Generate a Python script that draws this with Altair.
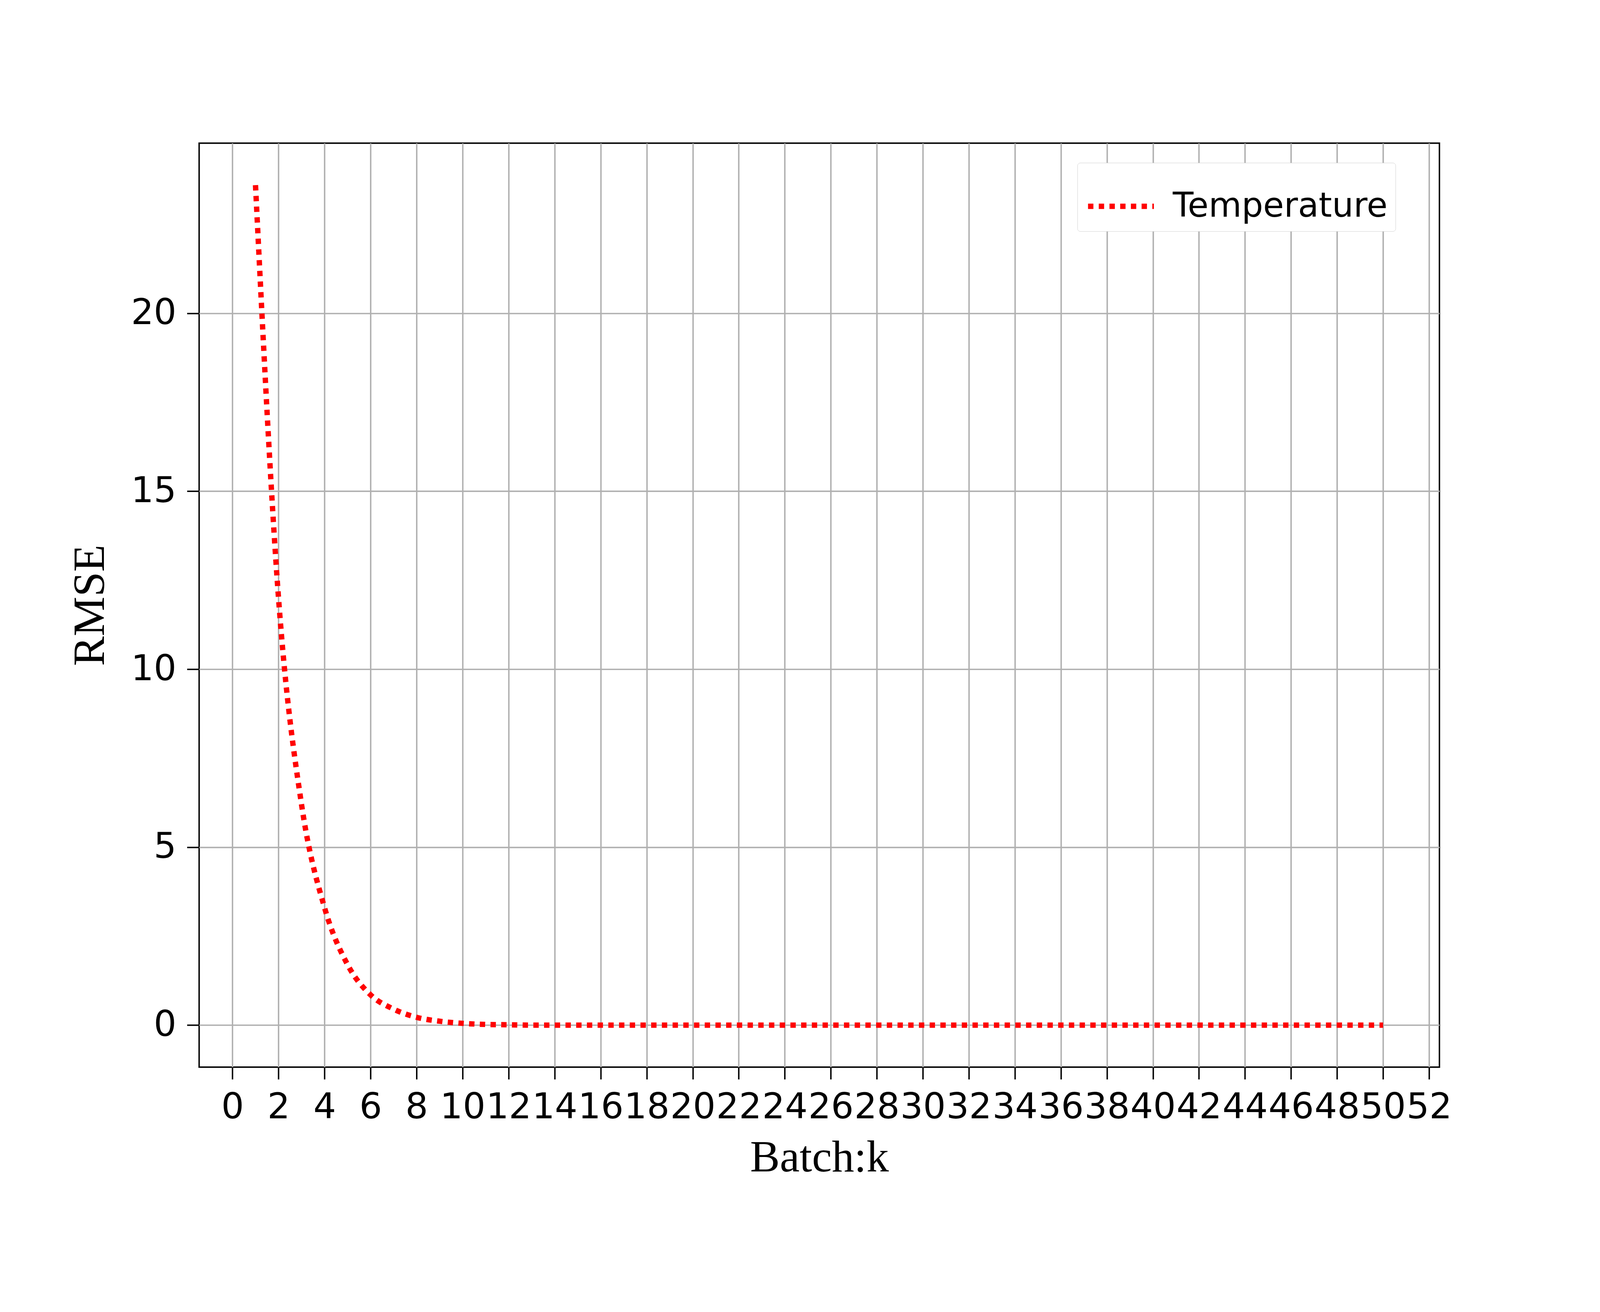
import pandas as pd
import altair as alt

batch = list(range(1, 51))
rmse_head = [23.6, 12.0, 6.2, 3.3, 1.7, 0.85, 0.45, 0.22, 0.11, 0.05, 0.02, 0.01]
rmse = rmse_head + [0.0] * (len(batch) - len(rmse_head))

df = pd.DataFrame({"Batch": batch, "RMSE": rmse, "series": "Temperature"})

chart = (
    alt.Chart(df)
    .mark_line(strokeWidth=15, strokeDash=[15, 15], interpolate="monotone", clip=True)
    .encode(
        x=alt.X(
            "Batch:Q",
            title="Batch:k",
            scale=alt.Scale(domain=[-1.45, 52.45], nice=False, zero=False),
            axis=alt.Axis(values=list(range(0, 54, 2)), labelOverlap=False),
        ),
        y=alt.Y(
            "RMSE:Q",
            title="RMSE",
            scale=alt.Scale(domain=[-1.18, 24.78], nice=False, zero=False),
            axis=alt.Axis(values=[0, 5, 10, 15, 20]),
        ),
        color=alt.Color(
            "series:N",
            scale=alt.Scale(range=["#ff0000"]),
            legend=alt.Legend(
                title=None,
                orient="none",
                legendX=2460,
                legendY=55,
                symbolType="stroke",
                symbolStrokeWidth=15,
                symbolDash=[15, 15],
                symbolSize=34000,
                labelFontSize=95,
                labelFont="DejaVu Sans",
                labelColor="black",
                labelLimit=0,
                padding=22,
                strokeColor="#cccccc",
                fillColor="white",
                cornerRadius=8,
                labelOffset=45,
            ),
        ),
    )
    .properties(
        width=3474,
        height=2589,
        padding={"left": 549, "top": 235, "right": 441, "bottom": 520},
        autosize="none",
    )
)

chart = (
    chart.configure_view(stroke="black", strokeWidth=4)
    .configure_axis(
        grid=True,
        gridColor="#b0b0b0",
        gridWidth=4,
        domain=False,
        tickColor="black",
        tickWidth=4,
        tickSize=34,
        labelPadding=30,
        labelFont="DejaVu Sans",
        labelFontSize=100,
        labelColor="black",
        titleFont="Liberation Serif",
        titleFontSize=125,
        titleFontWeight="normal",
        titleColor="black",
    )
    .configure_axisX(titlePadding=30)
    .configure_axisY(titlePadding=50)
)

chart.save("out.html", embed_options={"renderer": "svg", "actions": False})
